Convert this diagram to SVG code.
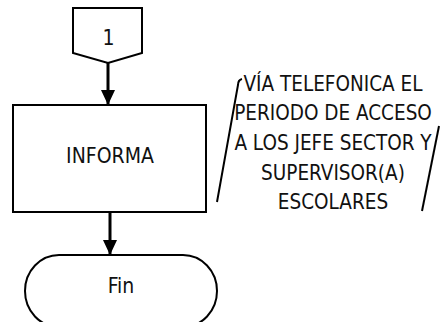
<svg xmlns="http://www.w3.org/2000/svg" width="440" height="322" viewBox="0 0 440 322">
  <defs>
    <style>
      .shape { fill: #ffffff; stroke: #000000; stroke-width: 2; }
      .edge { fill: none; stroke: #000000; stroke-width: 3; }
      .bracket { fill: none; stroke: #000000; stroke-width: 2; }
      .label { font-family: "DejaVu Sans Condensed", "DejaVu Sans", sans-serif; font-size: 21px; fill: #111111; text-anchor: middle; }
      .note { font-family: "DejaVu Sans Condensed", "DejaVu Sans", sans-serif; font-size: 20.5px; fill: #111111; text-anchor: middle; }
    </style>
    <marker id="arrow" markerWidth="15" markerHeight="14" refX="15" refY="7" orient="auto" markerUnits="userSpaceOnUse">
      <path d="M0,0 L15,7 L0,14 Z" fill="#000000"/>
    </marker>
  </defs>

  <rect width="440" height="322" fill="#ffffff"/>

  <!-- connectors -->
  <g id="connectors">
    <line class="edge" x1="108" y1="63" x2="108" y2="105" marker-end="url(#arrow)"/>
    <line class="edge" x1="110" y1="212" x2="110" y2="255" marker-end="url(#arrow)"/>
  </g>

  <!-- off-page connector -->
  <g id="node-connector-1">
    <path class="shape" d="M73,8 L142,8 L142,53 L108,63 L73,53 Z"/>
    <text class="label" x="108.5" y="45">1</text>
  </g>

  <!-- process -->
  <g id="node-informa">
    <rect class="shape" x="13" y="105" width="193" height="107"/>
    <text class="label" x="110" y="163">INFORMA</text>
  </g>

  <!-- terminator -->
  <g id="node-fin">
    <rect class="shape" x="25" y="255" width="192" height="72" rx="34" ry="36"/>
    <text class="label" x="121" y="293">Fin</text>
  </g>

  <!-- annotation -->
  <g id="note-telefonica">
    <path class="bracket" d="M242,79 Q238,80 238,85 L217,202"/>
    <path class="bracket" d="M439,126 L422,211"/>
    <text class="note" x="333" y="91">VÍA TELEFONICA EL</text>
    <text class="note" x="333" y="120">PERIODO DE ACCESO</text>
    <text class="note" x="333" y="150">A LOS JEFE SECTOR Y</text>
    <text class="note" x="333" y="180">SUPERVISOR(A)</text>
    <text class="note" x="333" y="209">ESCOLARES</text>
  </g>
</svg>
